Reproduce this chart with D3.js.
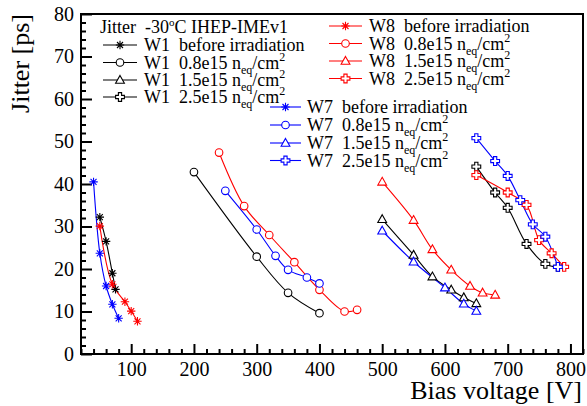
<!DOCTYPE html>
<html><head><meta charset="utf-8">
<script src="https://cdn.jsdelivr.net/npm/d3@7"></script>
<style>body{margin:0;background:#fff}svg{display:block}text{font-family:"Liberation Serif","Times New Roman",serif;white-space:pre}</style>
</head><body><div id="chart"></div>
<script>
// ---- data ----
const xTicks = [100,200,300,400,500,600,700,800];
const yTicks = [0,10,20,30,40,50,60,70,80];

const w1BeforeX = [50,60,70,75],            w1BeforeY = [32.2,26.5,19.0,15.2];
const w1F08X = [200,300,350,400],           w1F08Y = [42.8,22.9,14.4,9.6];
const w1F15X = [500,550,580,610,630,650],   w1F15Y = [31.7,23.3,18.2,15.1,13.3,11.9];
const w1F25X = [650,680,700,730,760,780],   w1F25Y = [44.1,38.0,34.4,25.9,21.2,20.5];

const w8BeforeX = [50,70,90,100,110],       w8BeforeY = [30.1,16.4,12.3,10.1,7.7];
const w8F08X = [240,280,320,360,400,440,460], w8F08Y = [47.4,34.8,28.0,21.6,15.1,10.0,10.4];
const w8F15X = [500,550,580,610,640,660,680], w8F15Y = [40.5,31.5,24.6,19.8,16.0,14.4,13.9];
const w8F25X = [650,700,730,750,770,790],   w8F25Y = [42.1,38.0,35.1,26.8,23.7,20.5];

const w7BeforeX = [40,50,60,70,80],         w7BeforeY = [40.5,23.7,16.0,11.7,8.4];
const w7F08X = [250,300,330,350,380,400],   w7F08Y = [38.4,29.3,23.1,19.8,18.0,16.6];
const w7F15X = [500,550,600,630,650],       w7F15Y = [29.0,21.7,15.6,11.8,10.1];
const w7F25X = [650,680,700,720,740,760,780], w7F25Y = [50.8,45.4,41.9,36.2,30.5,27.6,20.5];

const wafers = ["W1","W8","W7"];
const fluences = ["before irradiation","0.8e15","1.5e15","2.5e15"];
const headerText = "Jitter  -30";

// ---- build series ----
const colorOf = {W1:"#000000", W8:"#ff0000", W7:"#0000ff"};
const markers = ["star","circle","triangle","cross"];
const raw = {
  W1:[[w1BeforeX,w1BeforeY],[w1F08X,w1F08Y],[w1F15X,w1F15Y],[w1F25X,w1F25Y]],
  W8:[[w8BeforeX,w8BeforeY],[w8F08X,w8F08Y],[w8F15X,w8F15Y],[w8F25X,w8F25Y]],
  W7:[[w7BeforeX,w7BeforeY],[w7F08X,w7F08Y],[w7F15X,w7F15Y],[w7F25X,w7F25Y]]
};
const series = [];
wafers.forEach(w => raw[w].forEach((p,i) => series.push({
  wafer:w, fi:i, color:colorOf[w], marker:markers[i],
  pts:p[0].map((x,k)=>({x, y:p[1][k]}))
})));

const W = 587, H = 406;
const L = 81, R = 583, T = 14, B = 354;
const svg = d3.select("#chart").append("svg").attr("width",W).attr("height",H);
svg.append("rect").attr("width",W).attr("height",H).attr("fill","#fff");

const x = d3.scaleLinear().domain([20,820]).range([L,R]);
const y = d3.scaleLinear().domain([0,80]).range([B,T]);

// frame
svg.append("rect").attr("x",L).attr("y",T).attr("width",R-L).attr("height",B-T)
  .attr("fill","none").attr("stroke","#000").attr("stroke-width",2);

// axes
const xMinor = d3.range(20,821,20).filter(v=>v%100!==0);
const yMinor = d3.range(0,81,2).filter(v=>v%10!==0);
function styleAxis(g){ g.select(".domain").remove(); g.selectAll("line").attr("stroke","#000").attr("stroke-width",2); }

svg.append("g").attr("transform",`translate(0,${B})`)
  .call(d3.axisBottom(x).tickValues(xMinor).tickSize(-5).tickFormat("")).call(styleAxis);
const gx = svg.append("g").attr("transform",`translate(0,${B})`)
  .call(d3.axisBottom(x).tickValues(xTicks).tickSize(-10).tickPadding(8).tickFormat(d3.format("d"))).call(styleAxis);
gx.selectAll("text").attr("font-size",20).attr("fill","#000").style("font-family",'"Liberation Serif",serif');

svg.append("g").attr("transform",`translate(${L},0)`)
  .call(d3.axisLeft(y).tickValues(yMinor).tickSize(-5).tickFormat("")).call(styleAxis);
const gy = svg.append("g").attr("transform",`translate(${L},0)`)
  .call(d3.axisLeft(y).tickValues(yTicks).tickSize(-11).tickPadding(7).tickFormat(d3.format("d"))).call(styleAxis);
gy.selectAll("text").attr("font-size",20).attr("fill","#000").style("font-family",'"Liberation Serif",serif');

// axis titles
svg.append("text").attr("x",582).attr("y",399).attr("text-anchor","end")
  .attr("font-size",26).text("Bias voltage [V]");
svg.append("text").attr("transform","translate(29,14) rotate(-90)").attr("text-anchor","end")
  .attr("font-size",26).text("Jitter [ps]");

// markers
function drawMarker(g, type, cx, cy, color){
  const s = g.append("g").attr("transform",`translate(${cx},${cy})`)
    .attr("fill","none").attr("stroke",color).attr("stroke-width",1.1);
  if(type==="star"){
    const r=4.2, d=3.0;
    s.append("path").attr("d",`M${-r},0H${r}M0,${-r}V${r}M${-d},${-d}L${d},${d}M${-d},${d}L${d},${-d}`);
  } else if(type==="circle"){
    s.append("circle").attr("r",3.8).attr("fill","#fff");
  } else if(type==="triangle"){
    s.append("path").attr("d","M0,-4.6L4.4,3.2L-4.4,3.2Z").attr("fill","#fff");
  } else {
    const a=4.4, b=1.6;
    s.append("path").attr("fill","#fff").attr("d",
      `M${-b},${-a}H${b}V${-b}H${a}V${b}H${b}V${a}H${-b}V${b}H${-a}V${-b}H${-b}Z`);
  }
}

const line = d3.line().x(d=>x(d.x)).y(d=>y(d.y)).curve(d3.curveCatmullRom.alpha(0.5));
const plot = svg.append("g");
series.forEach(s=>{
  plot.append("path").attr("d",line(s.pts)).attr("fill","none").attr("stroke",s.color).attr("stroke-width",1.1);
});
series.forEach(s=>{
  s.pts.forEach(p=>drawMarker(plot,s.marker,x(p.x),y(p.y),s.color));
});

// legends
function labelText(t, wafer, fi){
  t.append("tspan").text(wafer+"  "+(fi===0?fluences[0]:fluences[fi]+" n"));
  if(fi>0){
    t.append("tspan").attr("font-size",12).attr("dy",5).text("eq");
    t.append("tspan").attr("dy",-5).text("/cm");
    t.append("tspan").attr("font-size",12).attr("dy",-8).text("2");
  }
}
const legendCfg = {
  W1:{x0:103,x1:137,tx:144,ys:[45,62.5,80,97]},
  W8:{x0:329,x1:362,tx:369,ys:[26,43.5,61,78.5]},
  W7:{x0:270,x1:301,tx:307,ys:[107,125,143,160.5]}
};
const lg = svg.append("g");
wafers.forEach(w=>{
  const c = legendCfg[w];
  fluences.forEach((f,i)=>{
    const yy = c.ys[i];
    lg.append("line").attr("x1",c.x0).attr("x2",c.x1).attr("y1",yy).attr("y2",yy)
      .attr("stroke",colorOf[w]).attr("stroke-width",1.1);
    drawMarker(lg,markers[i],(c.x0+c.x1)/2,yy,colorOf[w]);
    const t = lg.append("text").attr("x",c.tx).attr("y",yy+6).attr("font-size",18).attr("fill","#000");
    labelText(t,w,i);
  });
});
const ht = lg.append("text").attr("x",100).attr("y",33).attr("font-size",18);
ht.append("tspan").text(headerText);
ht.append("tspan").attr("font-size",11).attr("dy",-7).text("o");
ht.append("tspan").attr("dy",7).text("C IHEP-IMEv1");
</script></body></html>
